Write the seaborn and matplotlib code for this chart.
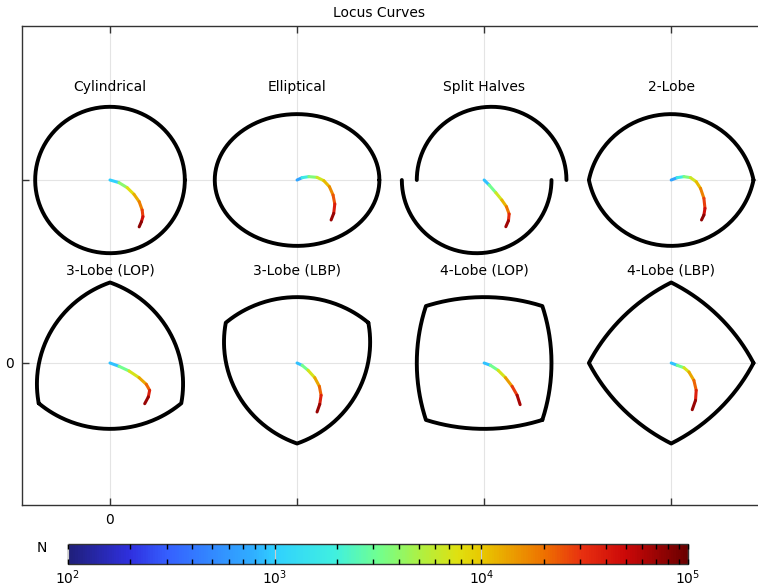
import numpy as np
import matplotlib
matplotlib.use("Agg")
import matplotlib.pyplot as plt
from matplotlib.collections import LineCollection
from matplotlib.colors import LogNorm, LinearSegmentedColormap
from matplotlib.cm import ScalarMappable
import seaborn as sns

sns.set_style("whitegrid")
plt.rcParams['font.family'] = ['DejaVu Sans']
plt.rcParams['text.color'] = 'black'
plt.rcParams['xtick.color'] = 'black'
plt.rcParams['ytick.color'] = 'black'

# bearing layout
names = ["Cylindrical", "Elliptical", "Split Halves", "2-Lobe",
         "3-Lobe (LOP)", "3-Lobe (LBP)", "4-Lobe (LOP)", "4-Lobe (LBP)"]
center_x = [0.0, 2.5, 5.0, 7.5, 0.0, 2.5, 5.0, 7.5]
center_y = [2.5, 2.5, 2.5, 2.5, 0.0, 0.0, 0.0, 0.0]

# geometry parameters (clearance units)
bore_r = 1.0
ellipse_ab = [1.1, 0.9]
split_offset = 0.1
pad_r = 0.9      # distance to pad centre
vertex_r = 1.1   # distance to pad edge (lobe vertex)
lobe_count = {"2-Lobe": 2, "3-Lobe (LOP)": 3, "3-Lobe (LBP)": 3,
              "4-Lobe (LOP)": 4, "4-Lobe (LBP)": 4}
first_pad_deg = {"2-Lobe": 90, "3-Lobe (LOP)": -90, "3-Lobe (LBP)": 90,
                 "4-Lobe (LOP)": 0, "4-Lobe (LBP)": 45}

# journal centre locus
locus_x = [
    [0, 0.12, 0.23, 0.32, 0.39, 0.43, 0.44, 0.42, 0.39],
    [0, 0.067, 0.156, 0.267, 0.357, 0.432, 0.481, 0.504, 0.490, 0.455],
    [0, 0.067, 0.156, 0.236, 0.298, 0.334, 0.325, 0.290],
    [0, 0.080, 0.170, 0.258, 0.334, 0.392, 0.437, 0.451, 0.437, 0.405],
    [0, 0.12, 0.254, 0.388, 0.485, 0.53, 0.512, 0.464],
    [0, 0.067, 0.147, 0.236, 0.298, 0.321, 0.303, 0.267],
    [0, 0.085, 0.187, 0.285, 0.374, 0.441, 0.481],
    [0, 0.08, 0.17, 0.237, 0.303, 0.334, 0.325, 0.281],
]
locus_y = [
    [0, -0.036, -0.105, -0.195, -0.296, -0.41, -0.50, -0.57, -0.64],
    [0, 0.032, 0.046, 0.036, -0.009, -0.091, -0.205, -0.328, -0.455, -0.546],
    [0, -0.068, -0.173, -0.273, -0.364, -0.464, -0.556, -0.638],
    [0, 0.032, 0.046, 0.032, -0.023, -0.114, -0.25, -0.387, -0.478, -0.546],
    [0, -0.045, -0.109, -0.2, -0.291, -0.373, -0.464, -0.556],
    [0, -0.032, -0.1, -0.2, -0.319, -0.441, -0.564, -0.669],
    [0, -0.032, -0.1, -0.2, -0.319, -0.441, -0.569],
    [0, -0.032, -0.064, -0.123, -0.237, -0.373, -0.51, -0.638],
]
locus_N = [
    [4e2, 2.5e3, 6e3, 1e4, 1.5e4, 2.2e4, 3.5e4, 6e4, 1e5],
    [4e2, 1.2e3, 2.5e3, 5e3, 9e3, 1.4e4, 2e4, 3e4, 5e4, 1e5],
    [4e2, 2e3, 5e3, 9e3, 1.5e4, 2.5e4, 4.5e4, 1e5],
    [4e2, 1.2e3, 2.5e3, 5e3, 9e3, 1.4e4, 2.2e4, 3.5e4, 6e4, 1e5],
    [4e2, 2e3, 5e3, 1e4, 1.7e4, 2.8e4, 5e4, 1e5],
    [4e2, 2e3, 5e3, 1e4, 1.7e4, 2.8e4, 5e4, 1e5],
    [4e2, 2e3, 5e3, 1e4, 2e4, 4e4, 1e5],
    [4e2, 2e3, 5e3, 1e4, 1.7e4, 2.8e4, 5e4, 1e5],
]

cb_pos = [0.0, 0.10, 0.16, 0.30, 0.333, 0.43, 0.5, 0.57, 0.63, 0.667, 0.77, 0.83, 0.9, 1.0]
cb_col = ["#1f1f7a", "#2f30e0", "#3560ff", "#30b0ff", "#30d0ff", "#40f0e0", "#70ff90",
          "#b0f040", "#e0e010", "#e8c800", "#ee7000", "#e83010", "#cc0808", "#6a0000"]
cmap = LinearSegmentedColormap.from_list("rainbow_c", list(zip(cb_pos, cb_col)))
norm = LogNorm(1e2, 1e5)


def lobed(n, phi0, rp, rv):
    a = np.pi / n
    d = (rv ** 2 - rp ** 2) / (2 * (rp - rv * np.cos(a)))
    R = rp + d
    xs, ys = [], []
    for k in range(n):
        phi = phi0 + 2 * np.pi * k / n
        t = np.linspace(-a, a, 80)
        r = -d * np.cos(t) + np.sqrt(R ** 2 - (d * np.sin(t)) ** 2)
        xs.append(r * np.cos(phi + t))
        ys.append(r * np.sin(phi + t))
    xs = np.concatenate(xs + [xs[0][:1]])
    ys = np.concatenate(ys + [ys[0][:1]])
    return [(xs, ys)]


def outline(name):
    th = np.linspace(0, 2 * np.pi, 300)
    if name == "Cylindrical":
        return [(bore_r * np.cos(th), bore_r * np.sin(th))]
    if name == "Elliptical":
        return [(ellipse_ab[0] * np.cos(th), ellipse_ab[1] * np.sin(th))]
    if name == "Split Halves":
        up = np.linspace(0, np.pi, 150)
        lo = np.linspace(np.pi, 2 * np.pi, 150)
        return [(split_offset + bore_r * np.cos(up), bore_r * np.sin(up)),
                (-split_offset + bore_r * np.cos(lo), bore_r * np.sin(lo))]
    return lobed(lobe_count[name], np.radians(first_pad_deg[name]), pad_r, vertex_r)


fig = plt.figure(figsize=(7.58, 5.86), dpi=100)
ax = fig.add_axes([22 / 758, 81 / 586, 739 / 758, 479 / 586])

for i, name in enumerate(names):
    cx, cy = center_x[i], center_y[i]
    for xs, ys in outline(name):
        sns.lineplot(x=xs + cx, y=ys + cy, sort=False, estimator=None,
                     color="black", lw=2.8, ax=ax)
    px = np.array(locus_x[i]) + cx
    py = np.array(locus_y[i]) + cy
    nn = np.array(locus_N[i])
    segs = [[(px[j], py[j]), (px[j + 1], py[j + 1])] for j in range(len(px) - 1)]
    cols = cmap(norm(np.sqrt(nn[:-1] * nn[1:])))
    ax.add_collection(LineCollection(segs, colors=cols, linewidths=2.2,
                                     capstyle="round", zorder=3))
    ax.text(cx, cy + 1.27, name, ha="center", va="center", fontsize=10)

ax.set_xlim(-1.176, 8.70)
ax.set_ylim(-1.94, 4.604)
ax.set_xticks(center_x[:4])
ax.set_xticklabels(["0", "", "", ""])
ax.set_yticks([0.0, 2.5])
ax.set_yticklabels(["0", ""])
ax.grid(True, color="#e4e4e4", lw=0.8)
ax.tick_params(direction="in", length=5, width=1, color="#333333",
               top=True, bottom=True, left=True, labelsize=10, pad=6)
for side in ["left", "top", "bottom"]:
    ax.spines[side].set_color("#333333")
    ax.spines[side].set_linewidth(1.0)
ax.spines["right"].set_visible(False)
ax.set_xlabel("")
ax.set_ylabel("")

fig.text(0.5, 1 - 13 / 586, "Locus Curves", ha="center", va="center", fontsize=10)

cax = fig.add_axes([68 / 758, 22 / 586, 620 / 758, 20 / 586])
cb = fig.colorbar(ScalarMappable(norm=norm, cmap=cmap), cax=cax, orientation="horizontal")
cax.set_axisbelow(False)
cb.outline.set_edgecolor("#333333")
cb.outline.set_linewidth(1.0)
cax.tick_params(which="both", direction="in", top=True, bottom=True,
                length=3.5, width=1, color="black", labelsize=10, pad=3.5)
fig.text(42 / 758, 1 - 548 / 586, "N", ha="center", va="center", fontsize=10)

fig.savefig("out.png", dpi=100)
